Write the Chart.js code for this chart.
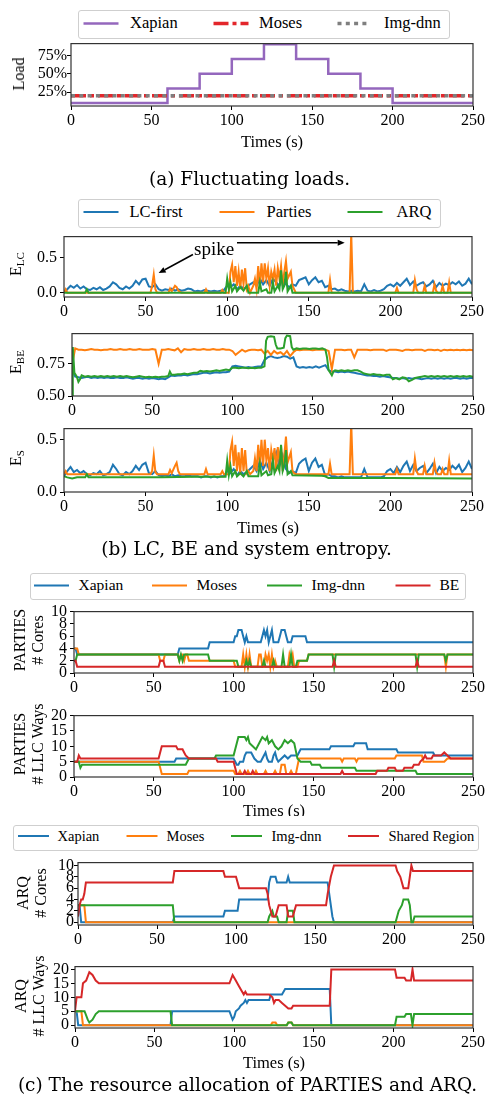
<!DOCTYPE html>
<html>
<head>
<meta charset="utf-8">
<script src="https://cdn.jsdelivr.net/npm/chart.js@4.4.0/dist/chart.umd.min.js"></script>
<style>
  body { margin: 0; background: #fff; }
  #page { position: relative; width: 487px; height: 1097px; overflow: hidden; background: #fff; color: #000; }
  .plot { position: absolute; left: 0; }
  .serif, .txt, .ylab, .legend span { font-family: "Liberation Serif", "Times New Roman", serif; }
  .txt { position: absolute; white-space: nowrap; line-height: 1; font-size: 16.5px; transform: translate(-50%, -50%); }
  .txt.cap { font-family: "DejaVu Serif", serif; font-size: 18.5px; }
  .ylab { position: absolute; white-space: nowrap; line-height: 18px; text-align: center; font-size: 16px;
          transform: translate(-50%, -50%) rotate(-90deg); }
  .ylab sub { font-size: 11px; vertical-align: -3px; }
  .legend { position: absolute; border: 1px solid #cfcfcf; border-radius: 3px; background: #fff; }
  .legend span { position: absolute; line-height: 1; white-space: nowrap; transform: translateY(-50%); }
  .legend svg { position: absolute; left: 0; top: 0; }
</style>
</head>
<body>
<div id="page"></div>
<script>
// ---------- data ----------
const xTicks = [0, 50, 100, 150, 200, 250];

// (a) load of each LC service, [time s, fraction of max load]
const loadNames = ['Xapian', 'Moses', 'Img-dnn'];
const xapianLoad = [[0, 0.1], [60, 0.3], [80, 0.5], [100, 0.7], [120, 0.9], [140, 0.7], [160, 0.5], [180, 0.3], [200, 0.1], [250, 0.1]];
const mosesLoad = [[0, 0.2], [250, 0.2]];
const imgdnnLoad = [[0, 0.2], [250, 0.2]];
const loadTicks = [0.25, 0.5, 0.75];

// (b) entropy traces; plain arrays are sampled every 2 s, pair lists are [time s, value]
const SAMPLE_STEP = 2;
const schemeNames = ['LC-first', 'Parties', 'ARQ'];

const lcFirstELC = [
  0.0, 0.05, 0.1, 0.07, 0.11, 0.06, 0.09, 0.05, 0.04, 0.07,
  0.05, 0.08, 0.04, 0.06, 0.09, 0.15, 0.12, 0.07, 0.05, 0.09,
  0.06, 0.1, 0.17, 0.12, 0.19, 0.2, 0.09, 0.08, 0.12, 0.05,
  0.03, 0.05, 0.04, 0.06, 0.03, 0.05, 0.03, 0.04, 0.06, 0.05,
  0.02, 0.03, 0.02, 0.04, 0.03, 0.02, 0.03, 0.02, 0.03, 0.04,
  0.1, 0.08, 0.12, 0.05, 0.1, 0.06, 0.08, 0.12, 0.15, 0.1,
  0.2, 0.12, 0.18, 0.1, 0.2, 0.15, 0.1, 0.2, 0.12, 0.08,
  0.12, 0.1, 0.18, 0.2, 0.22, 0.12, 0.18, 0.22, 0.15, 0.17,
  0.08, 0.1, 0.05, 0.06, 0.03, 0.05, 0.03, 0.02, 0.03, 0.02,
  0.03, 0.02, 0.12, 0.03, 0.02, 0.04, 0.02, 0.03, 0.05, 0.1,
  0.12, 0.09, 0.14, 0.1, 0.15, 0.2, 0.11, 0.16, 0.1, 0.13,
  0.15, 0.09, 0.12, 0.17, 0.08, 0.14, 0.1, 0.13, 0.11, 0.15,
  0.12, 0.16, 0.1, 0.13, 0.2, 0.12
];
const partiesELC = [
  [0, 0], [1, 0.05], [2, 0], [53, 0], [54, 0.1], [55, 0.26], [56, 0.05], [57, 0], [64, 0], [65, 0.06], [66, 0.02],
  [68, 0.1], [69, 0.08], [70, 0.03], [72, 0], [86, 0], [87, 0.05], [88, 0], [96, 0], [97, 0.04], [98, 0], [101, 0],
  [102, 0.3], [103, 0.4], [104, 0.15], [105, 0.38], [106, 0.1], [107, 0.3], [108, 0.05], [109, 0.33], [110, 0.12],
  [111, 0.35], [112, 0.05], [113, 0.1], [114, 0], [116, 0.1], [117, 0.2], [118, 0.05], [119, 0.38], [120, 0.1],
  [121, 0.42], [122, 0.15], [123, 0.42], [124, 0.2], [125, 0.35], [126, 0.1], [127, 0.3], [128, 0.2], [129, 0.33],
  [130, 0.1], [131, 0.35], [132, 0.2], [133, 0.38], [134, 0.1], [135, 0.3], [136, 0.45], [137, 0.2], [138, 0.25],
  [139, 0.3], [140, 0.1], [141, 0.05], [142, 0], [162, 0], [163, 0.18], [164, 0], [175, 0], [176, 0.85], [177, 0],
  [203, 0], [204, 0.07], [205, 0], [214, 0], [215, 0.18], [216, 0.05], [217, 0], [220, 0], [221, 0.1], [222, 0],
  [226, 0], [227, 0.12], [228, 0.03], [229, 0], [231, 0], [232, 0.1], [233, 0], [235, 0], [236, 0.15], [237, 0], [250, 0]
];
const arqELC = [
  [0, 0], [13, 0], [14, 0.05], [15, 0], [99, 0], [100, 0.2], [101, 0.05], [102, 0.15], [103, 0.02], [105, 0.1],
  [106, 0.02], [108, 0.08], [110, 0.03], [112, 0.1], [113, 0], [119, 0], [120, 0.15], [121, 0.02], [124, 0.05],
  [125, 0], [127, 0], [128, 0.15], [129, 0.02], [131, 0.1], [132, 0.05], [133, 0.32], [134, 0.05], [135, 0.1],
  [136, 0.3], [137, 0.02], [139, 0.1], [140, 0], [250, 0]
];

const lcFirstEBE = [
  0.7, 0.65, 0.645, 0.64, 0.645, 0.65, 0.64, 0.645, 0.64, 0.645,
  0.64, 0.645, 0.64, 0.64, 0.645, 0.64, 0.64, 0.645, 0.64, 0.635,
  0.64, 0.64, 0.635, 0.64, 0.635, 0.64, 0.635, 0.63, 0.635, 0.63,
  0.645, 0.66, 0.655, 0.66, 0.66, 0.665, 0.66, 0.665, 0.67, 0.67,
  0.675, 0.68, 0.68, 0.675, 0.68, 0.685, 0.68, 0.685, 0.685, 0.69,
  0.73, 0.735, 0.73, 0.725, 0.72, 0.725, 0.72, 0.725, 0.73, 0.73,
  0.78, 0.8, 0.81, 0.8, 0.795, 0.8, 0.81, 0.805, 0.79, 0.8,
  0.73, 0.72, 0.725, 0.72, 0.725, 0.72, 0.73, 0.72, 0.73, 0.74,
  0.7, 0.69, 0.69, 0.685, 0.69, 0.685, 0.69, 0.685, 0.68, 0.675,
  0.67, 0.665, 0.66, 0.66, 0.655, 0.655, 0.65, 0.655, 0.65, 0.645,
  0.64, 0.64, 0.635, 0.64, 0.635, 0.64, 0.635, 0.64, 0.635, 0.63,
  0.635, 0.64, 0.635, 0.64, 0.635, 0.64, 0.635, 0.64, 0.635, 0.64,
  0.64, 0.635, 0.64, 0.635, 0.64, 0.64
];
const partiesEBE = [
  0.74, 0.87, 0.86, 0.86, 0.855, 0.86, 0.865, 0.86, 0.86, 0.855,
  0.86, 0.86, 0.865, 0.86, 0.86, 0.865, 0.86, 0.86, 0.865, 0.86,
  0.86, 0.865, 0.86, 0.86, 0.86, 0.865, 0.86, 0.75, 0.86, 0.86,
  0.865, 0.86, 0.855, 0.87, 0.84, 0.865, 0.86, 0.86, 0.865, 0.86,
  0.86, 0.865, 0.86, 0.86, 0.865, 0.86, 0.86, 0.865, 0.86, 0.86,
  0.85, 0.82, 0.84, 0.86, 0.845, 0.855, 0.86, 0.86, 0.855, 0.86,
  0.83, 0.85, 0.82, 0.85, 0.83, 0.84, 0.82, 0.85, 0.81, 0.84,
  0.86, 0.855, 0.86, 0.86, 0.86, 0.855, 0.86, 0.86, 0.86, 0.86,
  0.85, 0.71, 0.86, 0.86, 0.86, 0.855, 0.86, 0.86, 0.8, 0.86,
  0.86, 0.86, 0.86, 0.855, 0.86, 0.86, 0.86, 0.86, 0.85, 0.86,
  0.86, 0.86, 0.855, 0.85, 0.86, 0.86, 0.855, 0.86, 0.86, 0.86,
  0.85, 0.86, 0.86, 0.855, 0.86, 0.85, 0.86, 0.855, 0.86, 0.855,
  0.86, 0.855, 0.86, 0.855, 0.86, 0.855
];
const arqEBE = [
  [0, 0.5], [0.5, 0.88], [1.5, 0.68], [3, 0.65], [4, 0.61], [5, 0.63], [6, 0.66], [8, 0.65], [10, 0.655], [12, 0.65],
  [14, 0.655], [16, 0.65], [18, 0.655], [20, 0.65], [22, 0.655], [24, 0.65], [26, 0.655], [28, 0.65], [30, 0.655],
  [32, 0.65], [34, 0.655], [36, 0.65], [38, 0.645], [40, 0.65], [42, 0.655], [44, 0.65], [46, 0.645], [48, 0.65],
  [50, 0.645], [52, 0.65], [54, 0.645], [56, 0.65], [58, 0.65], [60, 0.655], [61, 0.69], [62, 0.665], [64, 0.665],
  [66, 0.67], [68, 0.67], [70, 0.675], [72, 0.67], [74, 0.675], [76, 0.68], [78, 0.68], [80, 0.695], [82, 0.69],
  [84, 0.695], [86, 0.69], [88, 0.695], [90, 0.7], [92, 0.695], [94, 0.7], [96, 0.705], [98, 0.7], [100, 0.72],
  [102, 0.72], [104, 0.715], [106, 0.72], [108, 0.72], [110, 0.715], [112, 0.72], [114, 0.715], [116, 0.72],
  [118, 0.72], [120, 0.73], [121, 0.93], [122, 0.96], [124, 0.965], [126, 0.96], [127, 0.9], [128, 0.87],
  [130, 0.87], [132, 0.875], [133, 0.95], [134, 0.97], [136, 0.965], [137, 0.88], [138, 0.86], [140, 0.87],
  [142, 0.865], [144, 0.87], [146, 0.87], [148, 0.865], [150, 0.87], [152, 0.87], [154, 0.865], [156, 0.87],
  [158, 0.86], [159, 0.8], [160, 0.7], [161, 0.68], [162, 0.66], [163, 0.69], [164, 0.7], [166, 0.695], [168, 0.7],
  [170, 0.695], [172, 0.7], [174, 0.695], [176, 0.7], [178, 0.7], [180, 0.69], [182, 0.675], [184, 0.67],
  [186, 0.665], [188, 0.67], [190, 0.665], [192, 0.665], [194, 0.66], [196, 0.665], [198, 0.665], [200, 0.63],
  [202, 0.64], [204, 0.63], [206, 0.645], [208, 0.64], [210, 0.615], [212, 0.625], [214, 0.64], [216, 0.645],
  [218, 0.65], [220, 0.655], [222, 0.65], [224, 0.655], [226, 0.65], [228, 0.655], [230, 0.65], [232, 0.655],
  [234, 0.65], [236, 0.655], [238, 0.65], [240, 0.655], [242, 0.65], [244, 0.655], [246, 0.65], [248, 0.655], [250, 0.65]
];

const lcFirstES = [
  0.15, 0.2, 0.24, 0.19, 0.21, 0.18, 0.2, 0.17, 0.16, 0.18,
  0.17, 0.2, 0.16, 0.17, 0.19, 0.26, 0.22, 0.17, 0.16, 0.19,
  0.17, 0.2, 0.25, 0.21, 0.26, 0.28, 0.18, 0.17, 0.2, 0.16,
  0.15, 0.16, 0.15, 0.17, 0.15, 0.16, 0.15, 0.15, 0.16, 0.15,
  0.15, 0.15, 0.14, 0.15, 0.15, 0.14, 0.15, 0.14, 0.15, 0.15,
  0.2, 0.18, 0.22, 0.16, 0.2, 0.17, 0.19, 0.22, 0.25, 0.2,
  0.3, 0.22, 0.28, 0.2, 0.3, 0.38, 0.25, 0.35, 0.22, 0.18,
  0.2, 0.18, 0.27, 0.3, 0.32, 0.2, 0.28, 0.32, 0.24, 0.26,
  0.16, 0.17, 0.15, 0.15, 0.14, 0.15, 0.14, 0.14, 0.14, 0.14,
  0.14, 0.14, 0.22, 0.14, 0.14, 0.14, 0.14, 0.14, 0.15, 0.2,
  0.22, 0.18, 0.24, 0.19, 0.25, 0.29, 0.2, 0.26, 0.2, 0.23,
  0.25, 0.18, 0.22, 0.27, 0.18, 0.24, 0.2, 0.23, 0.21, 0.25,
  0.22, 0.26, 0.19, 0.23, 0.29, 0.22
];
const partiesES = [
  [0, 0.17], [1, 0.2], [2, 0.17], [53, 0.17], [54, 0.2], [55, 0.35], [56, 0.19], [57, 0.17], [64, 0.17], [65, 0.21],
  [66, 0.18], [68, 0.25], [69, 0.28], [70, 0.2], [71, 0.17], [86, 0.17], [87, 0.22], [88, 0.17], [96, 0.17],
  [97, 0.2], [98, 0.17], [101, 0.17], [102, 0.4], [103, 0.48], [104, 0.25], [105, 0.45], [106, 0.2], [107, 0.38],
  [108, 0.18], [109, 0.42], [110, 0.2], [111, 0.4], [112, 0.18], [113, 0.2], [114, 0.17], [116, 0.2], [117, 0.32],
  [118, 0.2], [119, 0.45], [120, 0.25], [121, 0.5], [122, 0.25], [123, 0.5], [124, 0.3], [125, 0.42], [126, 0.2],
  [127, 0.4], [128, 0.3], [129, 0.42], [130, 0.2], [131, 0.43], [132, 0.3], [133, 0.44], [134, 0.2], [135, 0.35],
  [136, 0.53], [137, 0.28], [138, 0.33], [139, 0.38], [140, 0.2], [141, 0.18], [142, 0.17], [162, 0.17],
  [163, 0.27], [164, 0.17], [175, 0.17], [176, 0.66], [177, 0.17], [203, 0.17], [204, 0.22], [205, 0.17],
  [214, 0.17], [215, 0.32], [216, 0.2], [217, 0.17], [220, 0.17], [221, 0.25], [222, 0.17], [226, 0.17],
  [227, 0.28], [228, 0.19], [229, 0.17], [231, 0.17], [232, 0.22], [233, 0.17], [235, 0.17], [236, 0.3],
  [237, 0.17], [250, 0.17]
];
const arqES = [
  [0, 0.15], [2, 0.14], [5, 0.13], [8, 0.14], [13, 0.14], [14, 0.17], [15, 0.14], [40, 0.14], [60, 0.14],
  [80, 0.145], [99, 0.145], [100, 0.3], [101, 0.16], [102, 0.25], [103, 0.15], [105, 0.2], [106, 0.15],
  [108, 0.18], [110, 0.15], [112, 0.2], [113, 0.15], [119, 0.15], [120, 0.27], [121, 0.16], [124, 0.2],
  [125, 0.16], [127, 0.17], [128, 0.3], [129, 0.18], [131, 0.25], [132, 0.2], [133, 0.45], [134, 0.2],
  [135, 0.25], [136, 0.4], [137, 0.17], [139, 0.2], [140, 0.16], [158, 0.155], [160, 0.15], [162, 0.135],
  [200, 0.135], [250, 0.13]
];

// (c) resource allocation, [time s, count]
const partiesNames = ['Xapian', 'Moses', 'Img-dnn', 'BE'];
const partiesCoresXapian = [[0, 4], [1, 4], [2, 3], [65, 3], [66, 4], [84, 4], [85, 5], [100, 5], [101, 6], [102, 6], [103, 7], [105, 7], [106, 6], [107, 5], [108, 6], [109, 5], [117, 5], [118, 6], [119, 7], [120, 6], [121, 7], [122, 5], [123, 6], [124, 7], [125, 5], [128, 5], [129, 6], [130, 7], [132, 7], [133, 6], [134, 5], [136, 5], [137, 6], [145, 6], [146, 5], [250, 5]];
const partiesCoresMoses = [[0, 4], [2, 4], [3, 3], [53, 3], [54, 2], [56, 2], [57, 3], [65, 3], [66, 2], [67, 3], [68, 3], [69, 2], [70, 3], [71, 3], [72, 2], [100, 2], [101, 1], [105, 1], [106, 3], [107, 1], [108, 3], [109, 1], [110, 3], [111, 1], [115, 1], [116, 3], [117, 3], [118, 1], [119, 1], [120, 3], [121, 2], [122, 3], [123, 1], [124, 3], [125, 1], [126, 2], [127, 1], [134, 1], [135, 3], [136, 2], [137, 3], [138, 1], [140, 1], [141, 2], [146, 2], [147, 3], [232, 3], [233, 1], [234, 3], [250, 3]];
const partiesCoresImgdnn = [[0, 2], [1, 2], [2, 3], [65, 3], [66, 2], [67, 3], [68, 2], [69, 3], [84, 3], [85, 2], [102, 2], [103, 1], [107, 1], [108, 2], [109, 1], [110, 2], [111, 1], [118, 1], [119, 2], [120, 1], [124, 1], [125, 2], [126, 1], [130, 1], [131, 3], [132, 1], [135, 1], [136, 3], [137, 1], [139, 1], [140, 2], [146, 2], [147, 3], [162, 3], [163, 1], [164, 3], [214, 3], [215, 1], [216, 3], [232, 3], [233, 2], [234, 3], [250, 3]];
const partiesCoresBE = [[0, 2], [1, 2], [2, 1], [53, 1], [54, 2], [56, 2], [57, 1], [162, 1], [163, 2], [164, 1], [214, 1], [215, 2], [216, 1], [250, 1]];

const partiesWaysXapian = [[0, 5], [63, 5], [64, 6], [100, 6], [102, 4], [103, 4], [104, 5], [106, 5], [107, 7], [108, 8], [111, 8], [112, 7], [113, 6], [115, 5], [117, 5], [119, 7], [120, 8], [121, 6], [122, 5], [124, 5], [125, 7], [126, 8], [127, 6], [128, 5], [130, 6], [132, 7], [134, 6], [136, 7], [140, 7], [142, 9], [160, 9], [161, 10], [175, 10], [176, 11], [183, 11], [184, 9], [202, 9], [203, 8], [225, 8], [226, 7], [250, 7]];
const partiesWaysMoses = [[0, 5], [53, 5], [54, 3], [55, 1], [71, 1], [72, 2], [100, 2], [101, 1], [103, 1], [104, 2], [105, 1], [108, 1], [109, 2], [110, 1], [113, 1], [114, 2], [115, 1], [119, 1], [120, 2], [121, 1], [125, 1], [126, 2], [127, 1], [129, 1], [130, 4], [132, 4], [133, 1], [135, 1], [136, 2], [137, 1], [139, 1], [141, 6], [167, 6], [168, 5], [169, 6], [176, 6], [177, 5], [178, 6], [201, 6], [202, 7], [218, 7], [219, 5], [232, 5], [234, 6], [250, 6]];
const partiesWaysImgdnn = [[0, 5], [3, 5], [4, 3], [5, 4], [70, 4], [72, 6], [88, 6], [89, 7], [100, 7], [103, 13], [107, 13], [108, 12], [109, 13], [110, 11], [112, 10], [114, 9], [116, 11], [118, 13], [120, 12], [121, 13], [122, 11], [124, 12], [126, 10], [128, 9], [130, 10], [132, 12], [134, 11], [136, 12], [138, 11], [140, 6], [142, 5], [148, 5], [149, 4], [154, 4], [155, 3], [176, 3], [177, 2], [214, 2], [215, 1], [250, 1]];
const partiesWaysBE = [[0, 5], [2, 5], [3, 7], [4, 6], [53, 6], [55, 10], [64, 10], [65, 9], [68, 9], [69, 8], [70, 7], [72, 6], [89, 6], [90, 5], [100, 5], [102, 1], [106, 1], [107, 2], [108, 1], [111, 1], [112, 2], [113, 1], [167, 1], [168, 2], [169, 1], [189, 1], [190, 2], [196, 2], [197, 3], [201, 3], [202, 2], [206, 2], [207, 3], [212, 3], [213, 4], [216, 4], [217, 5], [219, 6], [220, 7], [221, 6], [224, 6], [225, 7], [230, 7], [232, 8], [234, 7], [236, 6], [250, 6]];

const arqNames = ['Xapian', 'Moses', 'Img-dnn', 'Shared Region'];
const arqCoresXapian = [[0, 3], [1, 3], [2, 0], [60, 0], [61, 1], [92, 1], [93, 2], [101, 2], [102, 4], [120, 4], [121, 7], [122, 8], [125, 8], [126, 7], [132, 7], [133, 8], [134, 7], [158, 7], [161, 1], [162, 0], [250, 0]];
const arqCoresMoses = [[0, 3], [4, 3], [5, 0], [250, 0]];
const arqCoresImgdnn = [[0, 3], [60, 3], [61, 0], [120, 0], [121, 1], [123, 2], [124, 1], [126, 1], [127, 0], [132, 0], [133, 2], [136, 2], [137, 0], [201, 0], [202, 1], [203, 2], [205, 3], [206, 4], [209, 4], [210, 3], [211, 0], [212, 0], [213, 1], [250, 1]];
const arqCoresShared = [[0, 1], [1, 3], [2, 4], [3, 4], [4, 5], [5, 7], [60, 7], [61, 9], [92, 9], [93, 8], [100, 8], [102, 6], [119, 6], [120, 5], [121, 3], [122, 2], [123, 1], [125, 1], [126, 2], [127, 3], [132, 3], [133, 1], [136, 1], [137, 2], [138, 3], [157, 3], [158, 5], [160, 8], [162, 10], [201, 10], [202, 9], [204, 8], [206, 6], [209, 6], [210, 8], [211, 10], [212, 9], [250, 9]];

const arqWaysXapian = [[0, 5], [1, 5], [2, 0], [60, 0], [61, 5], [97, 5], [99, 2], [100, 3], [101, 5], [103, 6], [104, 7], [106, 8], [107, 9], [108, 8], [109, 9], [122, 9], [123, 11], [130, 11], [131, 12], [132, 13], [160, 13], [161, 0], [250, 0]];
const arqWaysMoses = [[0, 5], [4, 5], [5, 0], [123, 0], [124, 1], [126, 1], [127, 0], [133, 0], [134, 1], [136, 1], [137, 0], [250, 0]];
const arqWaysImgdnn = [[0, 5], [6, 5], [8, 2], [9, 1], [11, 2], [13, 4], [15, 5], [60, 5], [61, 0], [133, 0], [134, 1], [136, 1], [137, 0], [201, 0], [202, 3], [207, 3], [208, 4], [211, 4], [212, 0], [213, 4], [250, 4]];
const arqWaysShared = [[0, 5], [1, 10], [4, 10], [5, 15], [7, 16], [9, 19], [11, 18], [13, 16], [15, 15], [97, 15], [99, 18], [101, 16], [103, 14], [105, 12], [106, 11], [107, 12], [108, 11], [122, 11], [124, 10], [125, 8], [126, 9], [128, 9], [130, 8], [132, 7], [134, 6], [136, 6], [137, 7], [160, 7], [161, 20], [201, 20], [202, 17], [207, 17], [208, 16], [211, 16], [212, 20], [213, 16], [250, 16]];

const coresTicks = [0, 2, 4, 6, 8, 10];
const waysTicks = [0, 5, 10, 15, 20];

// ---------- helpers ----------
const BLUE = '#1f77b4', ORANGE = '#ff7f0e', GREEN = '#2ca02c', RED = '#d62728';
const PAGE_W = 487, PAD_TOP = 8, AXIS_H = 28;
const page = document.getElementById('page');

Chart.defaults.font.family = '"Liberation Serif", "Times New Roman", serif';
Chart.defaults.font.size = 16;
Chart.defaults.color = '#000';

const sampled = vals => vals.map((v, i) => ({ x: i * SAMPLE_STEP, y: v }));
const pairs = list => list.map(([x, y]) => ({ x, y }));

function line(data, color, order, extra) {
  return Object.assign({ data, borderColor: color, backgroundColor: color, borderWidth: 2,
    pointRadius: 0, fill: false, tension: 0, order }, extra || {});
}

// box frame on all four sides, like a matplotlib axes
const frame = {
  id: 'frame',
  afterDatasetsDraw(chart) {
    const { ctx, chartArea: a } = chart;
    ctx.save();
    ctx.strokeStyle = '#333';
    ctx.lineWidth = 1.2;
    ctx.strokeRect(a.left, a.top, a.right - a.left, a.bottom - a.top);
    ctx.restore();
  }
};

function addChart(box, datasets, y, plugins) {
  const top = box.top - PAD_TOP;
  const h = box.bottom - box.top + PAD_TOP + AXIS_H;
  const wrap = document.createElement('div');
  wrap.className = 'plot';
  wrap.style.top = top + 'px';
  const cv = document.createElement('canvas');
  cv.width = PAGE_W; cv.height = h;
  cv.style.width = PAGE_W + 'px'; cv.style.height = h + 'px';
  wrap.appendChild(cv);
  page.appendChild(wrap);
  return new Chart(cv, {
    type: 'line',
    data: { datasets },
    plugins: [frame].concat(plugins || []),
    options: {
      responsive: false, animation: false, events: [],
      layout: { padding: { top: PAD_TOP, right: PAGE_W - box.right, left: 0, bottom: 0 } },
      plugins: { legend: { display: false }, tooltip: { enabled: false } },
      scales: {
        x: {
          type: 'linear', min: 0, max: 250,
          afterBuildTicks: s => { s.ticks = xTicks.map(v => ({ value: v })); },
          afterFit: s => { s.height = AXIS_H; },
          grid: { drawOnChartArea: false, tickLength: 4, color: '#000' },
          border: { display: false },
          ticks: { padding: 1, maxRotation: 0, autoSkip: false }
        },
        y: {
          type: 'linear', min: y.min, max: y.max,
          afterBuildTicks: s => { s.ticks = y.ticks.map(v => ({ value: v })); },
          afterFit: s => { s.width = box.left; },
          grid: { drawOnChartArea: false, tickLength: 4, color: '#000' },
          border: { display: false },
          ticks: { padding: y.pad, autoSkip: false, callback: y.fmt }
        }
      }
    }
  });
}

function text(html, x, y, cls) {
  const d = document.createElement('div');
  d.className = 'txt ' + (cls || '');
  d.innerHTML = html;
  d.style.left = x + 'px';
  d.style.top = y + 'px';
  page.appendChild(d);
  return d;
}

function yLabel(html, x, y) {
  const d = document.createElement('div');
  d.className = 'ylab';
  d.innerHTML = html;
  d.style.left = x + 'px';
  d.style.top = y + 'px';
  page.appendChild(d);
}

// legend box: items carry sample start, sample length and text start in page px
function legend(box, items, font) {
  const d = document.createElement('div');
  d.className = 'legend';
  d.style.left = box.left + 'px'; d.style.top = box.top + 'px';
  d.style.width = box.width + 'px'; d.style.height = box.height + 'px';
  const ns = 'http://www.w3.org/2000/svg';
  const svg = document.createElementNS(ns, 'svg');
  svg.setAttribute('width', box.width); svg.setAttribute('height', box.height);
  const cy = box.midY - box.top - 1;
  items.forEach(it => {
    const ln = document.createElementNS(ns, 'line');
    ln.setAttribute('x1', it.x - box.left - 1); ln.setAttribute('x2', it.x - box.left - 1 + it.len);
    ln.setAttribute('y1', cy); ln.setAttribute('y2', cy);
    ln.setAttribute('stroke', it.color); ln.setAttribute('stroke-width', it.lw || 2);
    if (it.dash) ln.setAttribute('stroke-dasharray', it.dash.join(' '));
    svg.appendChild(ln);
    const s = document.createElement('span');
    s.textContent = it.label;
    s.style.left = (it.tx - box.left - 1) + 'px';
    s.style.top = cy + 'px';
    s.style.fontSize = font + 'px';
    d.appendChild(s);
  });
  d.appendChild(svg);
  page.appendChild(d);
}

// ---------- (a) fluctuating loads ----------
const DASHDOT = [15, 4, 4, 4], DOTTED = [4, 4.3];
addChart({ left: 71, right: 473, top: 42, bottom: 106 }, [
  line(pairs(xapianLoad), '#9467bd', 3, { stepped: 'before', borderWidth: 2.5 }),
  line(pairs(mosesLoad), '#e3262b', 2, { borderWidth: 3.5, borderDash: DASHDOT }),
  line(pairs(imgdnnLoad), '#7f7f7f', 1, { borderWidth: 3.5, borderDash: DOTTED })
], { min: 0.06, max: 0.91, ticks: loadTicks, pad: 0, fmt: v => Math.round(v * 100) + '%' });
legend({ left: 77.5, top: 9.5, width: 370, height: 27, midY: 23 }, [
  { label: loadNames[0], color: '#9467bd', x: 83, len: 35, tx: 130, lw: 2.5 },
  { label: loadNames[1], color: '#e3262b', x: 213, len: 35, tx: 259, lw: 3.5, dash: DASHDOT },
  { label: loadNames[2], color: '#7f7f7f', x: 337, len: 33, tx: 384, lw: 3.5, dash: DOTTED }
], 16.5);
yLabel('Load', 19, 74);
text('Times (s)', 272, 142);
text('(a) Fluctuating loads.', 249.5, 179, 'cap');

// ---------- (b) entropy ----------
const spikeNote = { label: 'spike', at: [92, 0.61], arrows: [[[79, 0.545], [58, 0.28]], [[106, 0.712], [172, 0.712]]] };
const spikeArrows = {
  id: 'spikeArrows',
  afterDraw(chart) {
    const { ctx, scales: { x, y } } = chart;
    ctx.save();
    ctx.fillStyle = '#000'; ctx.strokeStyle = '#000'; ctx.lineWidth = 1.5;
    ctx.font = '19px "Liberation Serif", serif';
    ctx.textAlign = 'center'; ctx.textBaseline = 'middle';
    ctx.fillText(spikeNote.label, x.getPixelForValue(spikeNote.at[0]), y.getPixelForValue(spikeNote.at[1]));
    spikeNote.arrows.forEach(([from, to]) => {
      const x0 = x.getPixelForValue(from[0]), y0 = y.getPixelForValue(from[1]);
      const x1 = x.getPixelForValue(to[0]), y1 = y.getPixelForValue(to[1]);
      const ang = Math.atan2(y1 - y0, x1 - x0), hl = 7, hw = 3;
      ctx.beginPath(); ctx.moveTo(x0, y0);
      ctx.lineTo(x1 - hl * Math.cos(ang), y1 - hl * Math.sin(ang)); ctx.stroke();
      ctx.beginPath(); ctx.moveTo(x1, y1);
      ctx.lineTo(x1 - hl * Math.cos(ang) + hw * Math.sin(ang), y1 - hl * Math.sin(ang) - hw * Math.cos(ang));
      ctx.lineTo(x1 - hl * Math.cos(ang) - hw * Math.sin(ang), y1 - hl * Math.sin(ang) + hw * Math.cos(ang));
      ctx.closePath(); ctx.fill();
    });
    ctx.restore();
  }
};

addChart({ left: 64, right: 472, top: 232, bottom: 297 }, [
  line(sampled(lcFirstELC), BLUE, 3),
  line(pairs(partiesELC), ORANGE, 2),
  line(pairs(arqELC), GREEN, 1)
], { min: -0.06, max: 0.8, ticks: [0, 0.5], pad: 3, fmt: v => v.toFixed(1) }, [spikeArrows]);

addChart({ left: 72, right: 473, top: 329, bottom: 396 }, [
  line(sampled(lcFirstEBE), BLUE, 3),
  line(sampled(partiesEBE), ORANGE, 2),
  line(pairs(arqEBE), GREEN, 1)
], { min: 0.5, max: 0.985, ticks: [0.5, 0.75], pad: 3, fmt: v => v.toFixed(2) });

addChart({ left: 64, right: 472, top: 424, bottom: 492 }, [
  line(sampled(lcFirstES), BLUE, 3),
  line(pairs(partiesES), ORANGE, 2),
  line(pairs(arqES), GREEN, 1)
], { min: 0, max: 0.606, ticks: [0, 0.5], pad: 3, fmt: v => v.toFixed(1) });

legend({ left: 77.5, top: 198.5, width: 361, height: 27.5, midY: 211.5 }, [
  { label: schemeNames[0], color: BLUE, x: 83, len: 35, tx: 129.5 },
  { label: schemeNames[1], color: ORANGE, x: 219, len: 35, tx: 266.5 },
  { label: schemeNames[2], color: GREEN, x: 347, len: 35, tx: 396.5 }
], 16.5);
yLabel('E<sub>LC</sub>', 18, 264);
yLabel('E<sub>BE</sub>', 18, 362);
yLabel('E<sub>S</sub>', 18, 458);
text('Times (s)', 268, 528);
text('(b) LC, BE and system entropy.', 246.5, 549, 'cap');

// ---------- (c) PARTIES and ARQ ----------
const intFmt = v => String(v);
addChart({ left: 74, right: 473, top: 607, bottom: 673 }, [
  line(pairs(partiesCoresXapian), BLUE, 4),
  line(pairs(partiesCoresMoses), ORANGE, 3),
  line(pairs(partiesCoresImgdnn), GREEN, 2),
  line(pairs(partiesCoresBE), RED, 1)
], { min: 0, max: 10, ticks: coresTicks, pad: 3, fmt: intFmt });

addChart({ left: 74, right: 473, top: 711, bottom: 777 }, [
  line(pairs(partiesWaysXapian), BLUE, 4),
  line(pairs(partiesWaysMoses), ORANGE, 3),
  line(pairs(partiesWaysImgdnn), GREEN, 2),
  line(pairs(partiesWaysBE), RED, 1)
], { min: 0, max: 20, ticks: waysTicks, pad: 3, fmt: intFmt });

addChart({ left: 78, right: 473, top: 861, bottom: 925 }, [
  line(pairs(arqCoresXapian), BLUE, 4),
  line(pairs(arqCoresMoses), ORANGE, 3),
  line(pairs(arqCoresImgdnn), GREEN, 2),
  line(pairs(arqCoresShared), RED, 1)
], { min: -0.5, max: 10.5, ticks: coresTicks, pad: 0, fmt: intFmt });

addChart({ left: 75, right: 473, top: 963, bottom: 1028 }, [
  line(pairs(arqWaysXapian), BLUE, 4),
  line(pairs(arqWaysMoses), ORANGE, 3),
  line(pairs(arqWaysImgdnn), GREEN, 2),
  line(pairs(arqWaysShared), RED, 1)
], { min: -1, max: 21, ticks: waysTicks, pad: 2, fmt: intFmt });

legend({ left: 29.5, top: 572.5, width: 434, height: 25, midY: 585 }, [
  { label: partiesNames[0], color: BLUE, x: 33.5, len: 35, tx: 78.5 },
  { label: partiesNames[1], color: ORANGE, x: 151.5, len: 35, tx: 196.5 },
  { label: partiesNames[2], color: GREEN, x: 266.5, len: 35, tx: 311.5 },
  { label: partiesNames[3], color: RED, x: 395, len: 35, tx: 439.5 }
], 15.5);
legend({ left: 12.5, top: 825, width: 464, height: 24, midY: 836 }, [
  { label: arqNames[0], color: BLUE, x: 17.5, len: 31, tx: 57.5 },
  { label: arqNames[1], color: ORANGE, x: 126, len: 31, tx: 166.5 },
  { label: arqNames[2], color: GREEN, x: 230.5, len: 31, tx: 271.5 },
  { label: arqNames[3], color: RED, x: 347.5, len: 31, tx: 388.5 }
], 14.5);

yLabel('PARTIES<br># Cores', 29, 640);
yLabel('PARTIES<br># LLC Ways', 29, 744);
yLabel('ARQ<br># Cores', 32, 893);
yLabel('ARQ<br># LLC Ways', 29.5, 995.5);

// the lower x title of the PARTIES block is cut by the next panel
const clip = document.createElement('div');
clip.style.cssText = 'position:absolute;left:0;top:798px;width:487px;height:18px;overflow:hidden';
const t = document.createElement('div');
t.className = 'txt';
t.textContent = 'Times (s)';
t.style.left = '274px'; t.style.top = '12.7px';
clip.appendChild(t);
page.appendChild(clip);
text('Times (s)', 274, 1063);
text('(c) The resource allocation of PARTIES and ARQ.', 247.5, 1085, 'cap');
</script>
</body>
</html>
